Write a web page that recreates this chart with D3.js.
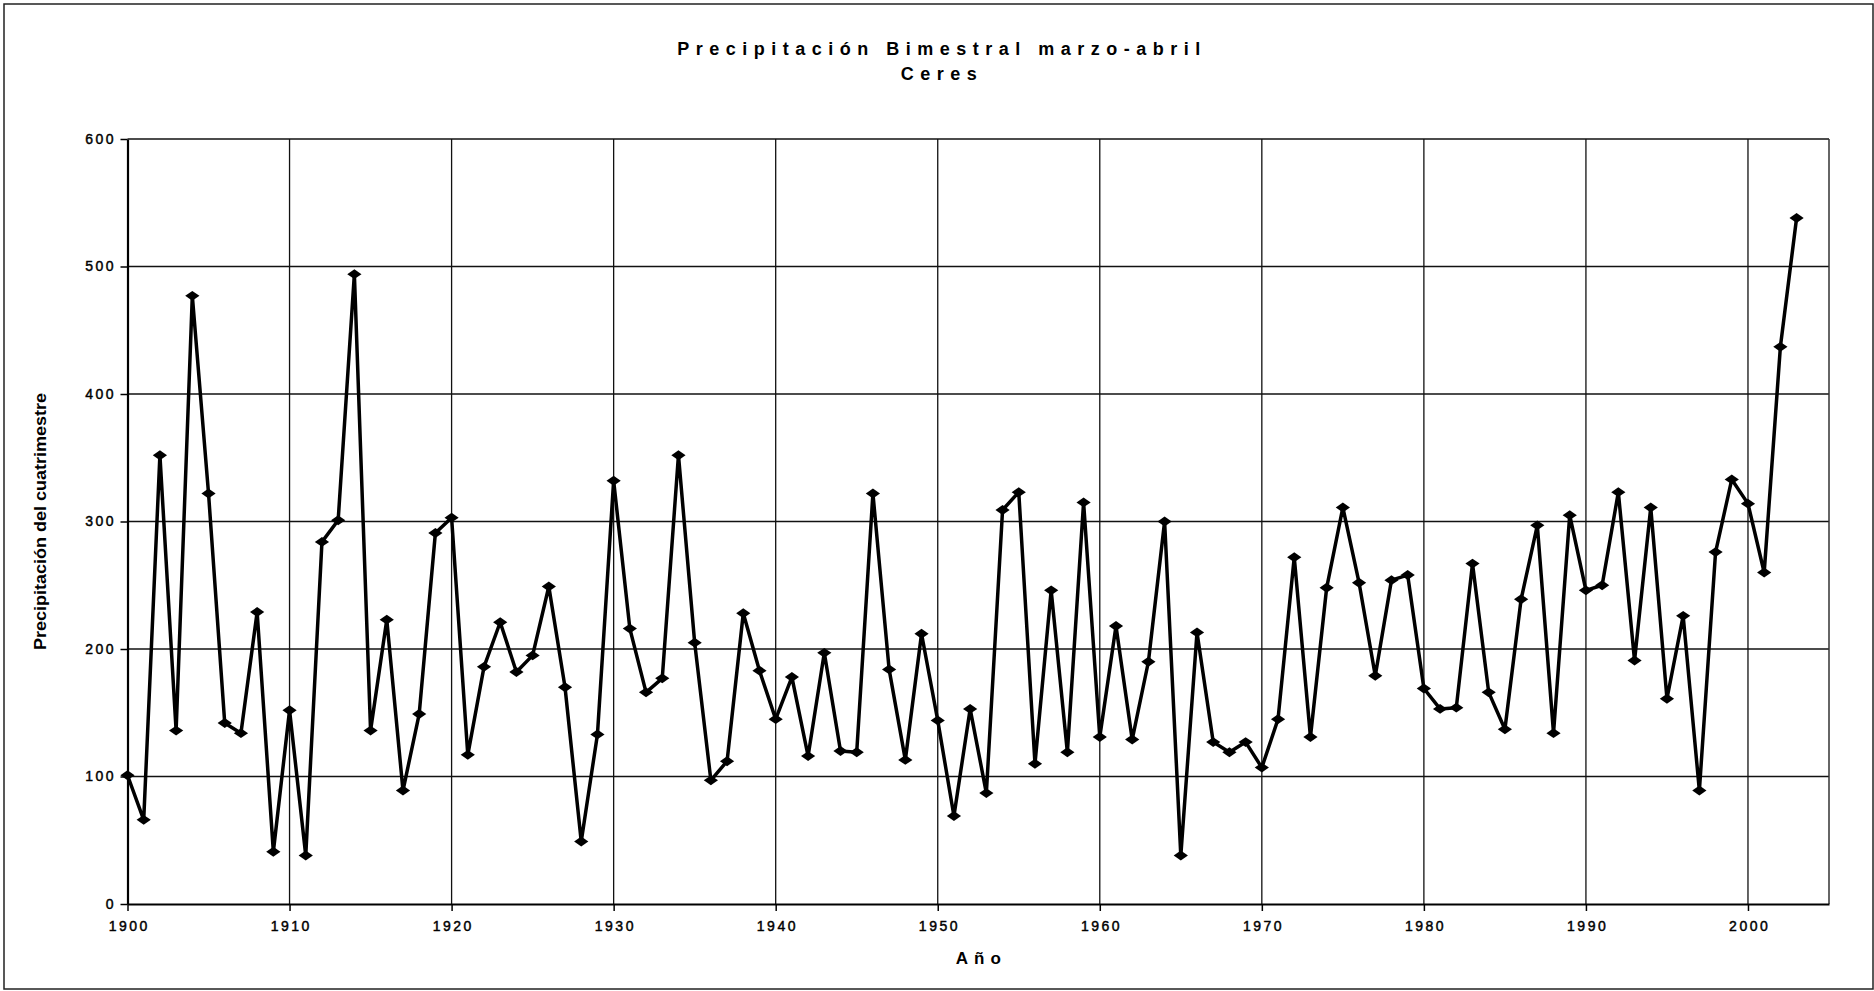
<!DOCTYPE html>
<html>
<head>
<meta charset="utf-8">
<script src="https://cdn.jsdelivr.net/npm/d3@7"></script>
<style>
body { margin: 0; background: #fff; }
text { font-family: "Liberation Sans", Arial, sans-serif; fill: #000; }
</style>
</head>
<body>
<div id="chart"></div>
<script>
var years = [
  1900, 1901, 1902, 1903, 1904, 1905, 1906, 1907, 1908, 1909,
  1910, 1911, 1912, 1913, 1914, 1915, 1916, 1917, 1918, 1919,
  1920, 1921, 1922, 1923, 1924, 1925, 1926, 1927, 1928, 1929,
  1930, 1931, 1932, 1933, 1934, 1935, 1936, 1937, 1938, 1939,
  1940, 1941, 1942, 1943, 1944, 1945, 1946, 1947, 1948, 1949,
  1950, 1951, 1952, 1953, 1954, 1955, 1956, 1957, 1958, 1959,
  1960, 1961, 1962, 1963, 1964, 1965, 1966, 1967, 1968, 1969,
  1970, 1971, 1972, 1973, 1974, 1975, 1976, 1977, 1978, 1979,
  1980, 1981, 1982, 1983, 1984, 1985, 1986, 1987, 1988, 1989,
  1990, 1991, 1992, 1993, 1994, 1995, 1996, 1997, 1998, 1999,
  2000, 2001, 2002, 2003
];

var precip = [
  101, 66, 352, 136, 477, 322, 142, 134, 229, 41,
  152, 38, 284, 301, 494, 136, 223, 89, 149, 291,
  303, 117, 186, 221, 182, 195, 249, 170, 49, 133,
  332, 216, 166, 177, 352, 205, 97, 112, 228, 183,
  145, 178, 116, 197, 120, 119, 322, 184, 113, 212,
  144, 69, 153, 87, 309, 323, 110, 246, 119, 315,
  131, 218, 129, 190, 300, 38, 213, 127, 119, 127,
  107, 145, 272, 131, 248, 311, 252, 179, 254, 258,
  169, 153, 154, 267, 166, 137, 239, 297, 134, 305,
  246, 250, 323, 191, 311, 161, 226, 89, 276, 333,
  314, 260, 437, 538
];

var xTicks = [1900, 1910, 1920, 1930, 1940, 1950, 1960, 1970, 1980, 1990, 2000];
var yTicks = [0, 100, 200, 300, 400, 500, 600];

var width = 1874,
height = 991;

// plot box (window.top is reserved, so own names)
var plotL = 127.5, plotR = 1829, plotT = 139, plotB = 904;

var svg = d3.select("#chart").append("svg")
  .attr("width", width)
  .attr("height", height);

// outer frame
svg.append("rect")
  .attr("x", 4).attr("y", 4)
  .attr("width", 1869).attr("height", 985)
  .attr("fill", "#fff")
  .attr("stroke", "#222")
  .attr("stroke-width", 1.5);

var x = d3.scaleLinear().domain([1900, 2005]).range([plotL, plotR]);
var y = d3.scaleLinear().domain([0, 600]).range([plotB, plotT]);

// grid
svg.append("g").selectAll("line")
  .data(xTicks.slice(1))
  .enter().append("line")
  .attr("x1", function (d) { return x(d); })
  .attr("x2", function (d) { return x(d); })
  .attr("y1", plotT).attr("y2", plotB)
  .attr("stroke", "#111").attr("stroke-width", 1.3);

svg.append("g").selectAll("line")
  .data(yTicks.slice(1))
  .enter().append("line")
  .attr("x1", plotL).attr("x2", plotR)
  .attr("y1", function (d) { return y(d); })
  .attr("y2", function (d) { return y(d); })
  .attr("stroke", "#111").attr("stroke-width", 1.3);

// right border of plot
svg.append("line")
  .attr("x1", plotR).attr("x2", plotR)
  .attr("y1", plotT).attr("y2", plotB)
  .attr("stroke", "#333").attr("stroke-width", 1.5);

// axes
var xAxis = svg.append("g")
  .attr("transform", "translate(0," + plotB + ")")
  .call(d3.axisBottom(x).tickValues(xTicks).tickSize(7).tickSizeOuter(0).tickPadding(10).tickFormat(d3.format("d")));

var yAxis = svg.append("g")
  .attr("transform", "translate(" + plotL + ",0)")
  .call(d3.axisLeft(y).tickValues(yTicks).tickSize(7).tickSizeOuter(0).tickPadding(7));

[xAxis, yAxis].forEach(function (a) {
  a.select(".domain").attr("stroke", "#000").attr("stroke-width", 2.2);
  a.selectAll(".tick line").attr("stroke", "#000").attr("stroke-width", 1.5);
  a.selectAll(".tick text")
    .style("font-family", "'Liberation Sans', Arial, sans-serif")
    .style("font-size", "14px")
    .style("letter-spacing", "2.5px")
    .attr("fill", "#000")
    .attr("stroke", "#000")
    .attr("stroke-width", 0.45);
});
yAxis.selectAll(".tick text").attr("dx", 2.5);
xAxis.selectAll(".tick text").attr("dx", 1.2);

// series
var line = d3.line()
  .x(function (d, i) { return x(years[i]); })
  .y(function (d) { return y(d); });

svg.append("path")
  .datum(precip)
  .attr("fill", "none")
  .attr("stroke", "#000")
  .attr("stroke-width", 3.5)
  .attr("stroke-linejoin", "round")
  .attr("d", line);

var diamond = d3.symbol().type(d3.symbolSquare).size(60);

svg.append("g").selectAll("path")
  .data(precip)
  .enter().append("path")
  .attr("d", diamond)
  .attr("fill", "#000")
  .attr("transform", function (d, i) {
    return "translate(" + x(years[i]) + "," + y(d) + ") scale(1.3,0.9) rotate(45)";
  });

// titles
var title = svg.append("text")
  .attr("text-anchor", "middle")
  .style("font-weight", "bold")
  .style("font-size", "18px")
  .style("letter-spacing", "6.5px");
title.append("tspan").attr("x", 942).attr("y", 55).text("Precipitación Bimestral marzo-abril");
title.append("tspan").attr("x", 942).attr("y", 80).text("Ceres");

svg.append("text")
  .attr("x", (plotL + plotR) / 2 + 3)
  .attr("y", 964)
  .attr("text-anchor", "middle")
  .style("font-weight", "bold")
  .style("font-size", "17px")
  .style("letter-spacing", "6px")
  .text("Año");

svg.append("text")
  .attr("transform", "translate(46," + (plotT + plotB) / 2 + ") rotate(-90)")
  .attr("text-anchor", "middle")
  .attr("textLength", 257)
  .attr("lengthAdjust", "spacingAndGlyphs")
  .style("font-family", "'Liberation Sans Narrow', 'Arial Narrow', sans-serif")
  .style("font-weight", "bold")
  .style("font-size", "16px")
  .text("Precipitación del cuatrimestre");
</script>
</body>
</html>
